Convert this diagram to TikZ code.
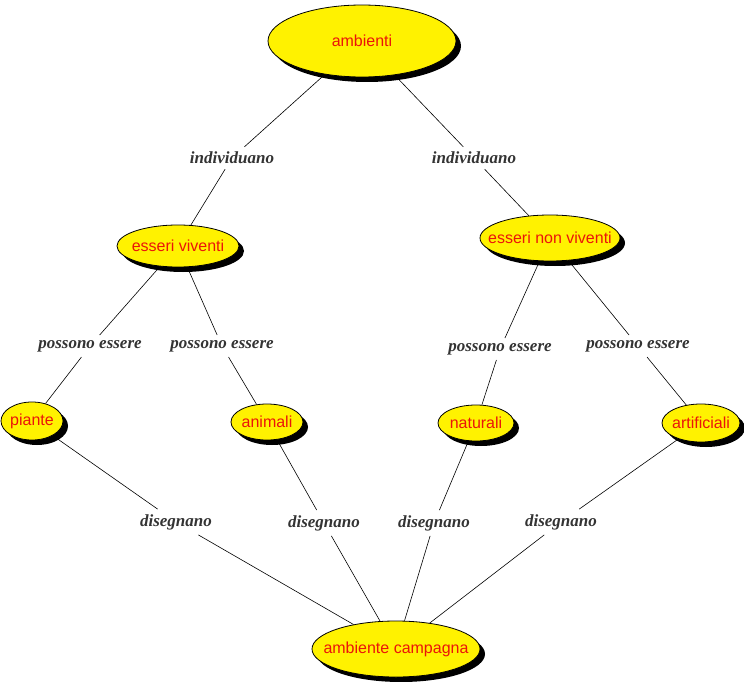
\documentclass[tikz,border=0pt]{standalone}
\usepackage{fontspec}
\setmainfont{Liberation Sans}
\newfontfamily\lblfont{Liberation Serif}
\usetikzlibrary{shapes.geometric,shadows}
\newcommand\ctext[1]{\makebox[0pt]{#1}}
\begin{document}
\begin{tikzpicture}[x=1pt,y=-1pt,
  concept/.style n args={2}{ellipse, draw=black, line width=0.8pt, fill=yellow, text={rgb,255:red,235;green,20;blue,10},
    font=\fontsize{16}{19}\selectfont, inner sep=0pt, minimum width=#1pt, minimum height=#2pt,
    drop shadow={shadow xshift=5pt, shadow yshift=-5pt, fill=black, opacity=1}},
  lbl/.style={font=\lblfont\bfseries\itshape\fontsize{17}{20}\selectfont, text=black!80, inner sep=5pt},
  link/.style={draw=black, line width=0.6pt}]
\useasboundingbox (0,0) rectangle (744,682);
\node[concept={188}{72}] (amb) at (362,41) {\ctext{ambienti}};
\node[concept={122}{42}] (ev) at (178,246) {\ctext{esseri viventi}};
\node[concept={140}{46}] (env) at (550,238) {\ctext{esseri non viventi}};
\node[concept={62}{38}] (pia) at (32,421) {\ctext{piante}};
\node[concept={72}{36}] (ani) at (267,422) {\ctext{animali}};
\node[concept={76}{36}] (nat) at (476,423) {\ctext{naturali}};
\node[concept={78}{38}] (art) at (701,423) {\ctext{artificiali}};
\node[concept={168}{56}] (camp) at (396,649) {\ctext{ambiente campagna}};

\node[lbl] (l1) at (232,158) {individuano};
\node[lbl] (l2) at (474,158) {individuano};
\node[lbl] (l3) at (90,346) {possono essere};
\node[lbl] (l4) at (222,346) {possono essere};
\node[lbl] (l5) at (500,349) {possono essere};
\node[lbl] (l6) at (638,346) {possono essere};
\node[lbl] (l7) at (176,522) {disegnano};
\node[lbl] (l8) at (324,523) {disegnano};
\node[lbl] (l9) at (434,523) {disegnano};
\node[lbl] (l10) at (561,522) {disegnano};

\path[link] (amb) -- (l1) -- (ev);
\path[link] (amb) -- (l2) -- (env);
\path[link] (ev) -- (l3) -- (pia);
\path[link] (ev) -- (l4) -- (ani);
\path[link] (env) -- (l5) -- (nat);
\path[link] (env) -- (l6) -- (art);
\path[link] (pia) -- (l7) -- (camp);
\path[link] (ani) -- (l8) -- (camp);
\path[link] (nat) -- (l9) -- (camp);
\path[link] (art) -- (l10) -- (camp);
\end{tikzpicture}
\end{document}
